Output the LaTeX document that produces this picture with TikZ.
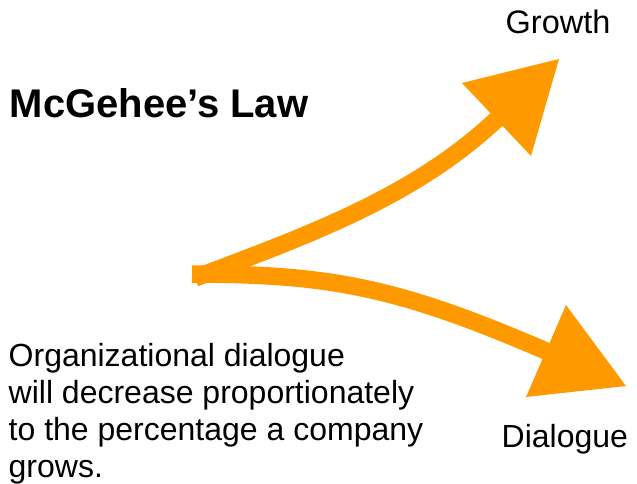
\documentclass[tikz,border=0pt]{standalone}
\usepackage{fontspec}
\setmainfont{Liberation Sans}
\usetikzlibrary{calc}
\definecolor{flow}{RGB}{255,153,0}
\begin{document}
\begin{tikzpicture}[x=1pt,y=-1pt,
  shaft/.style={draw=flow, line width=17.5pt},
  head/.style={fill=flow},
  lbl/.style={inner sep=0pt, anchor=base west, font=\fontsize{32.5}{37}\selectfont},
  title/.style={inner sep=0pt, anchor=base west, font=\fontsize{40}{46}\selectfont\bfseries},
  body/.style={inner sep=0pt, anchor=base west, align=left, font=\fontsize{32}{37}\selectfont}]
\useasboundingbox (0,0) rectangle (637,483);
% source points
\coordinate (srcg) at (195,278);
\coordinate (srcd) at (192,274);
% growth head
\coordinate (gtip) at (559,59);
\coordinate (gl) at (462,83);
\coordinate (gr) at (531,156);
\coordinate (gbase) at ($(gl)!.5!(gr)$);
\coordinate (gend) at ($(gbase)!6pt!(gtip)$);
% dialogue head
\coordinate (dtip) at (626,386);
\coordinate (dl) at (566,305);
\coordinate (dr) at (526,397);
\coordinate (dbase) at ($(dl)!.5!(dr)$);
\coordinate (dend) at ($(dbase)!6pt!(dtip)$);
% shafts
\draw[shaft] (srcg) .. controls (300.5,237.5) and (415,198.5) .. (gend);
\draw[shaft] (srcd) .. controls (330,274) and (399,287) .. (dend);
% heads
\fill[head] (gtip) -- (gl) -- (gr) -- cycle;
\fill[head] (dtip) -- (dl) -- (dr) -- cycle;
% texts
\node[title] (ttl) at (9.5,117) {McGehee’s Law};
\node[lbl] (grw) at (505.5,33) {Growth};
\node[lbl, font=\fontsize{32}{37}\selectfont] (dlg) at (501.5,447) {Dialogue};
\node[body] (txt) at (8.5,477) {Organizational dialogue\\will decrease proportionately\\to the percentage a company\\grows.};
\end{tikzpicture}
\end{document}
